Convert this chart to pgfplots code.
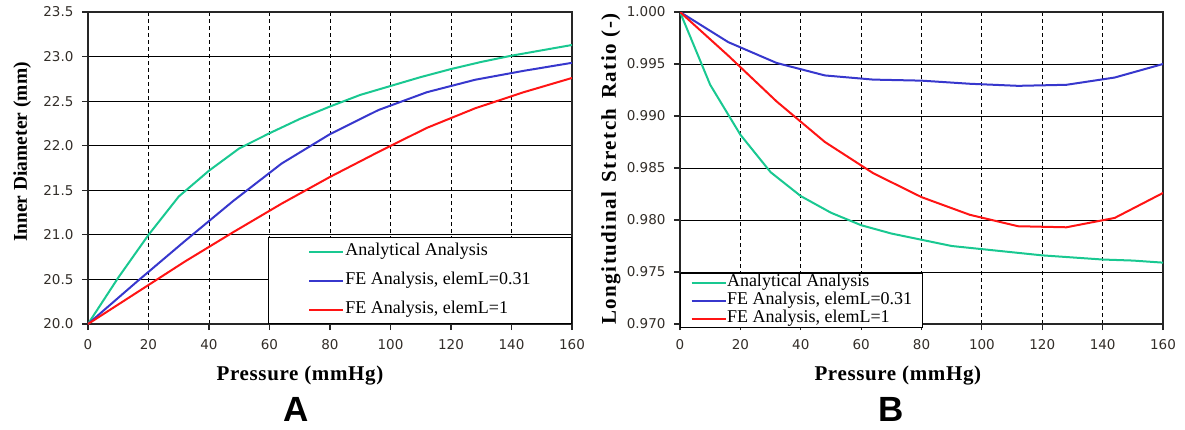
\documentclass[border=0pt]{standalone}
\usepackage{pgfplots}
\pgfplotsset{compat=1.18}
\usepackage{fontspec}
\setmainfont{Liberation Serif}
\newfontfamily\tickfont{DejaVu Sans}
\newfontfamily\panelfont{Liberation Sans}
\definecolor{cgreen}{RGB}{25,200,145}
\definecolor{cblue}{RGB}{55,55,205}
\definecolor{cred}{RGB}{255,20,20}
\definecolor{ctick}{RGB}{50,45,40}

\pgfplotstableread{
p    d
0    20.00
10   20.52
20   21.00
30   21.43
40   21.72
50   21.97
60   22.14
70   22.30
80   22.44
90   22.57
100  22.67
110  22.77
120  22.86
130  22.94
140  23.01
150  23.07
160  23.13
}\anaA
\pgfplotstableread{
p    d
0    20.00
16   20.47
32   20.93
48   21.38
64   21.80
80   22.13
96   22.40
112  22.60
128  22.74
144  22.84
160  22.93
}\feAsmall
\pgfplotstableread{
p    d
0    20.00
16   20.35
32   20.70
48   21.03
64   21.35
80   21.65
96   21.93
112  22.20
128  22.42
144  22.60
160  22.76
}\feAone
\pgfplotstableread{
p    r
0    1.0000
10   0.9930
20   0.9882
30   0.9846
40   0.9823
50   0.9807
60   0.9795
70   0.9787
80   0.9781
90   0.9775
100  0.9772
110  0.9769
120  0.9766
130  0.9764
140  0.9762
150  0.9761
160  0.9759
}\anaB
\pgfplotstableread{
p    r
0    1.0000
16   0.9971
32   0.9951
48   0.9939
64   0.9935
80   0.9934
96   0.9931
112  0.9929
128  0.9930
144  0.9937
160  0.9950
}\feBsmall
\pgfplotstableread{
p    r
0    1.0000
16   0.9958
32   0.9914
48   0.9875
64   0.9845
80   0.9822
96   0.9805
112  0.9794
128  0.9793
144  0.9802
160  0.9826
}\feBone

\pgfplotsset{
  common/.style={
    scale only axis, height=312pt,
    xmin=0, xmax=160, xtick={0,20,...,160},
    tick align=outside, tick pos=left, major tick length=6pt,
    xmajorgrids, ymajorgrids,
    x grid style={black, dash pattern=on 4pt off 3pt, line width=0.9pt},
    y grid style={black, line width=0.9pt},
    axis line style={black!85, line width=1.4pt},
    tick style={black!85, line width=1.2pt},
    /pgf/number format/assume math mode=true,
    tick label style={font=\fontsize{13.5}{15}\tickfont, text=ctick},
    xticklabel style={yshift=-6pt},
    yticklabel style={xshift=-5pt},
    xlabel style={font=\fontsize{21}{25}\selectfont\bfseries\addfontfeatures{LetterSpace=3}},
    legend cell align=left,
    legend image code/.code={\draw[#1,line width=2pt] (0pt,0pt) -- (34pt,0pt);},
    every axis plot/.append style={line width=2pt},
    scaled y ticks=false,
  }
}

\begin{document}
\begin{tikzpicture}[x=1pt,y=1pt]
\useasboundingbox (0,0) rectangle (1185,429);
\begin{axis}[common, at={(88pt,105pt)}, anchor=south west, width=484pt,
  ymin=20, ymax=23.5, ytick={20,20.5,...,23.5},
  yticklabel style={/pgf/number format/.cd, fixed, fixed zerofill, precision=1},
  xlabel={Pressure (mmHg)}, ylabel={Inner Diameter (mm)},
  xlabel style={at={(axis description cs:0.438,-0.165)}, anchor=center},
  ylabel style={at={(axis description cs:-0.136,0.551)}, anchor=center, rotate=0,
    font=\fontsize{19.5}{24}\selectfont\bfseries},
  legend style={at={(1,0)}, anchor=south east, draw=black, line width=1pt, fill=white,
    font=\fontsize{18}{21}\selectfont, inner xsep=40pt, inner ysep=5pt, row sep=11pt,
    nodes={inner sep=1pt, text height=12pt, text depth=4pt}},
]
\addplot[cgreen] table[x=p,y=d] {\anaA};
\addplot[cblue] table[x=p,y=d] {\feAsmall};
\addplot[cred] table[x=p,y=d] {\feAone};
\legend{Analytical Analysis, {FE Analysis, elemL=0.31}, {FE Analysis, elemL=1}}
\end{axis}
\begin{axis}[common, at={(680pt,105pt)}, anchor=south west, width=483pt,
  ymin=0.970, ymax=1.000, ytick={0.970,0.975,0.980,0.985,0.990,0.995,1.000},
  yticklabel style={/pgf/number format/.cd, fixed, fixed zerofill, precision=3},
  xlabel={Pressure (mmHg)}, ylabel={Longitudinal\hspace{3pt} Stretch\hspace{3pt} Ratio (-)},
  xlabel style={at={(axis description cs:0.451,-0.165)}, anchor=center},
  ylabel style={at={(axis description cs:-0.143,0.497)}, anchor=center, rotate=0,
    font=\fontsize{21}{25}\selectfont\bfseries\addfontfeatures{LetterSpace=7}},
  legend style={at={(0,0)}, anchor=south west, yshift=-4pt, draw=black, line width=1pt, fill=white,
    font=\fontsize{18}{21}\selectfont, inner xsep=10pt, inner ysep=0.5pt, row sep=1pt,
    nodes={inner sep=0.5pt, text height=12pt, text depth=4pt}},
]
\addplot[cgreen] table[x=p,y=r] {\anaB};
\addplot[cblue] table[x=p,y=r] {\feBsmall};
\addplot[cred] table[x=p,y=r] {\feBone};
\legend{Analytical Analysis, {FE Analysis, elemL=0.31}, {FE Analysis, elemL=1}}
\end{axis}
\node[font=\fontsize{35}{40}\panelfont\bfseries] at (296,20) {A};
\node[font=\fontsize{35}{40}\panelfont\bfseries] at (891,20) {B};
\end{tikzpicture}
\end{document}
